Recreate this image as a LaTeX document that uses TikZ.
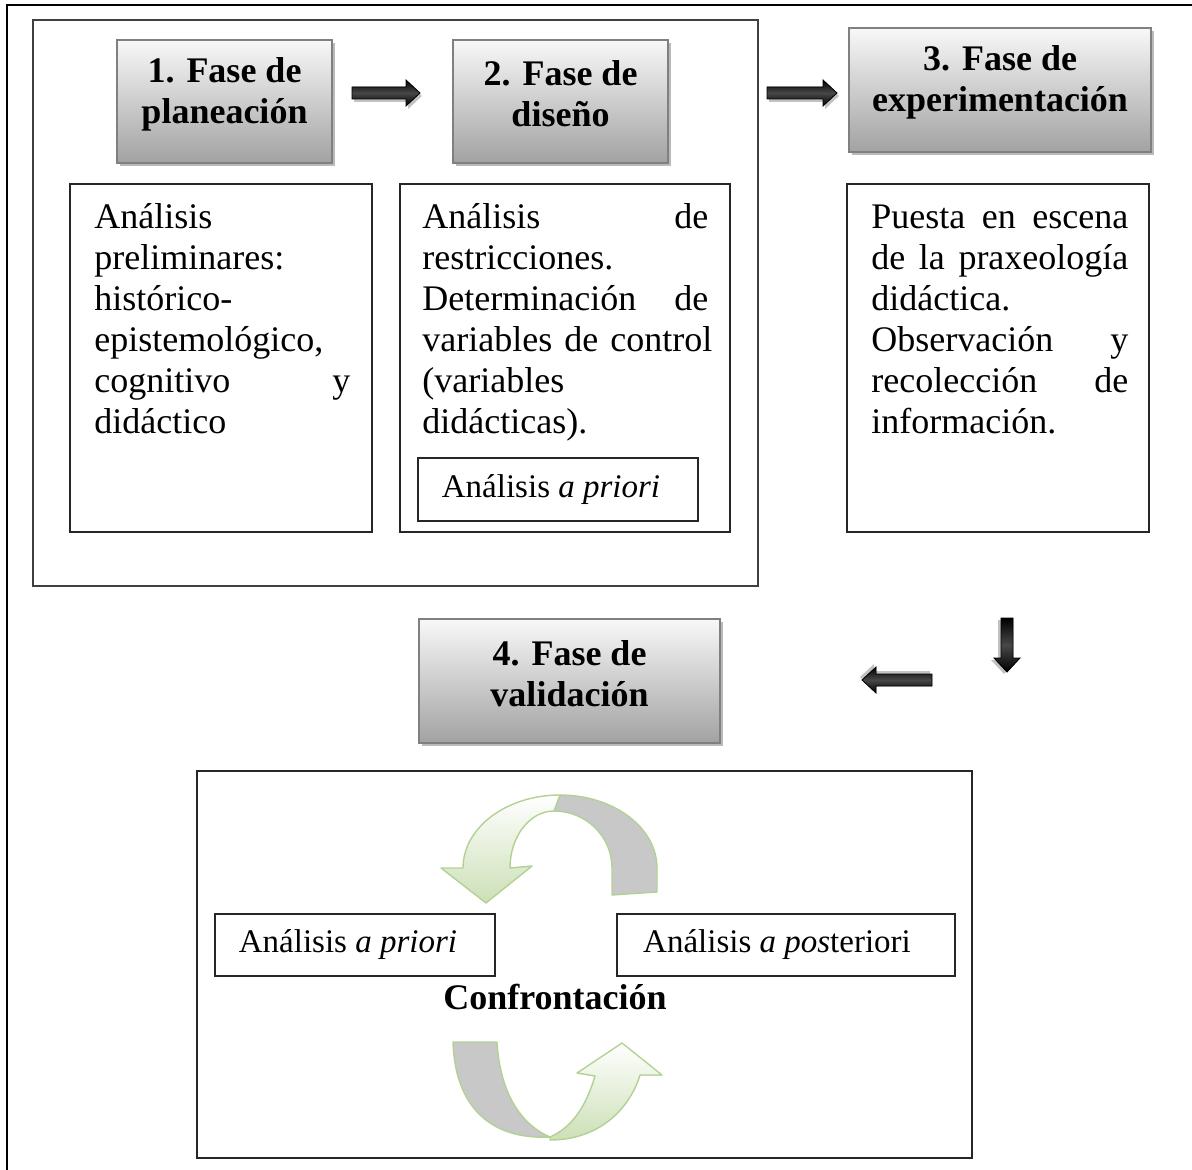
\documentclass[tikz,border=0pt]{standalone}
\usepackage{fontspec}
\setmainfont{Liberation Serif}
\usetikzlibrary{shadows}
\hyphenpenalty=10000

\definecolor{ribbongreen}{RGB}{204,224,182}
\definecolor{ribbonedge}{RGB}{178,210,148}
\definecolor{ribbongray}{RGB}{200,200,200}
\definecolor{headtop}{RGB}{248,248,248}
\definecolor{headbot}{RGB}{162,162,162}

% solid black block arrow, #1 = half length
\tikzset{pics/blockarrow/.style={code={
  \fill[black!40, opacity=0.6, shift={(2,3)}]
    (-#1,-6) -- ({#1-14},-6) -- ({#1-14},-13) -- (#1,0) -- ({#1-14},13) -- ({#1-14},6) -- (-#1,6) -- cycle;
  \filldraw[draw=black, line width=0.4pt, top color=black, bottom color=black, middle color=black!72]
    (-#1,-6) -- ({#1-14},-6) -- ({#1-14},-13) -- (#1,0) -- ({#1-14},13) -- ({#1-14},6) -- (-#1,6) -- cycle;
}}}

\begin{document}
\begin{tikzpicture}[x=0.5pt,y=-0.5pt,
  header/.style={rectangle, draw=black!50, line width=1pt,
    top color=headtop, bottom color=headbot,
    drop shadow={shadow xshift=1.5pt, shadow yshift=-1.5pt, fill=black!45, opacity=0.6},
    inner sep=0pt},
  headtext/.style={font=\fontsize{18pt}{20.5pt}\selectfont\bfseries, align=center, inner sep=0pt},
  textbox/.style={rectangle, draw=black!85, line width=0.7pt, inner sep=0pt},
  bodytext/.style={font=\fontsize{18pt}{20.5pt}\selectfont, align=left, inner sep=0pt, anchor=north west},
  labeltext/.style={font=\fontsize{16.5pt}{19pt}\selectfont, inner sep=0pt},
  ribbon/.style={draw=ribbonedge, line width=0.7pt, line join=round},
]
\useasboundingbox (0,0) rectangle (1192,1170);

% page frame
\begin{scope}
  \clip (0,0) rectangle (1192,1170);
  \draw[line width=1.3pt] (7,1180) -- (7,5) -- (1200,5);
\end{scope}

% group of the first two phases
\node[rectangle, draw=black!75, line width=0.75pt, minimum width=362.5pt, minimum height=283pt, inner sep=0pt] (group) at (395.5,303) {};

% phase headers
\node[header, minimum width=107.5pt, minimum height=61.5pt] (h1) at (224.5,101.5) {};
\node[headtext] (h1t) at (224.5,94) {1. Fase de\\planeación};
\node[header, minimum width=107.5pt, minimum height=61.5pt] (h2) at (560.5,101.5) {};
\node[headtext] (h2t) at (560.5,94) {2. Fase de\\diseño};
\node[header, minimum width=151pt, minimum height=62pt] (h3) at (1000,90) {};
\node[headtext] (h3t) at (1000,82) {3. Fase de\\experimentación};
\node[header, minimum width=150.5pt, minimum height=62pt] (h4) at (569.5,681) {};
\node[headtext] (h4t) at (569.5,674) {4. Fase de\\validación};

% block arrows between the phases
\pic at (386,93) {blockarrow=34};
\pic at (802,93) {blockarrow=35};
\pic[rotate=-90] at (1007,645) {blockarrow=27};
\pic[rotate=180] at (897,680) {blockarrow=35};

% description boxes
\node[textbox, minimum width=151pt, minimum height=174pt] (b1) at (221,358) {};
\node[bodytext, text width=128pt] (t1) at (94,199)
  {\strut Análisis\\ preliminares:\\ histórico-\\ epistemológico,\\ cognitivo\hfill y\\ didáctico};

\node[textbox, minimum width=165pt, minimum height=174pt] (b2) at (565,358) {};
\node[bodytext, text width=143pt] (t2) at (422,199)
  {\strut Análisis\hfill de\\ restricciones.\\ Determinación\hfill de\\ \mbox{variables de control}\\ (variables\\ didácticas).};
\node[textbox, minimum width=140pt, minimum height=31.5pt] (ap1) at (558,489.5) {};
\node[labeltext] (ap1t) at (551,490) {Análisis \textit{a priori}};

\node[textbox, minimum width=151pt, minimum height=174pt] (b3) at (998,358) {};
\node[bodytext, text width=128.5pt] (t3) at (871,199)
  {\strut Puesta\hfill en\hfill escena\\ de\hfill la\hfill praxeología\\ didáctica.\\ Observación\hfill y\\ recolección\hfill de\\ información.};

% validation box
\node[textbox, minimum width=387.5pt, minimum height=193.5pt] (val) at (584.5,964.5) {};
\node[textbox, minimum width=140pt, minimum height=31pt] (ap2) at (355,945) {};
\node[labeltext] (ap2t) at (348,945) {Análisis \textit{a priori}};
\node[textbox, minimum width=169pt, minimum height=31pt] (apo) at (786,945) {};
\node[labeltext] (apot) at (777,945) {Análisis \textit{a pos}teriori};
\node[font=\fontsize{18pt}{20pt}\selectfont\bfseries, inner sep=0pt] (conf) at (555,997) {Confrontación};

% upper curved ribbon arrow (right to left)
\filldraw[ribbon, fill=ribbongray]
  (657,892) -- (657,868) arc[start angle=0, end angle=-90, x radius=97, y radius=73]
  -- (554,811) arc[start angle=-90, end angle=0, x radius=58, y radius=57] -- (612,895) -- cycle;
\filldraw[ribbon, top color=white, bottom color=ribbongreen]
  (560,795) arc[start angle=-90, end angle=-180, x radius=97, y radius=73]
  -- (441,868) -- (486,903) -- (532,866) -- (510,868)
  arc[start angle=-180, end angle=-90, x radius=44, y radius=57] -- cycle;

% lower curved ribbon arrow (left to right)
\filldraw[ribbon, fill=ribbongray]
  (453,1042) -- (497,1042) .. controls (500,1092) and (520,1124) .. (550,1137)
  .. controls (492,1140) and (455,1108) .. (453,1042) -- cycle;
\filldraw[ribbon, top color=white, bottom color=ribbongreen]
  (550,1140) .. controls (600,1140) and (630,1108) .. (640,1075)
  -- (662,1075) -- (622,1043) -- (577,1073) -- (595,1076)
  .. controls (585,1110) and (570,1128) .. (550,1137) -- cycle;
\end{tikzpicture}
\end{document}
